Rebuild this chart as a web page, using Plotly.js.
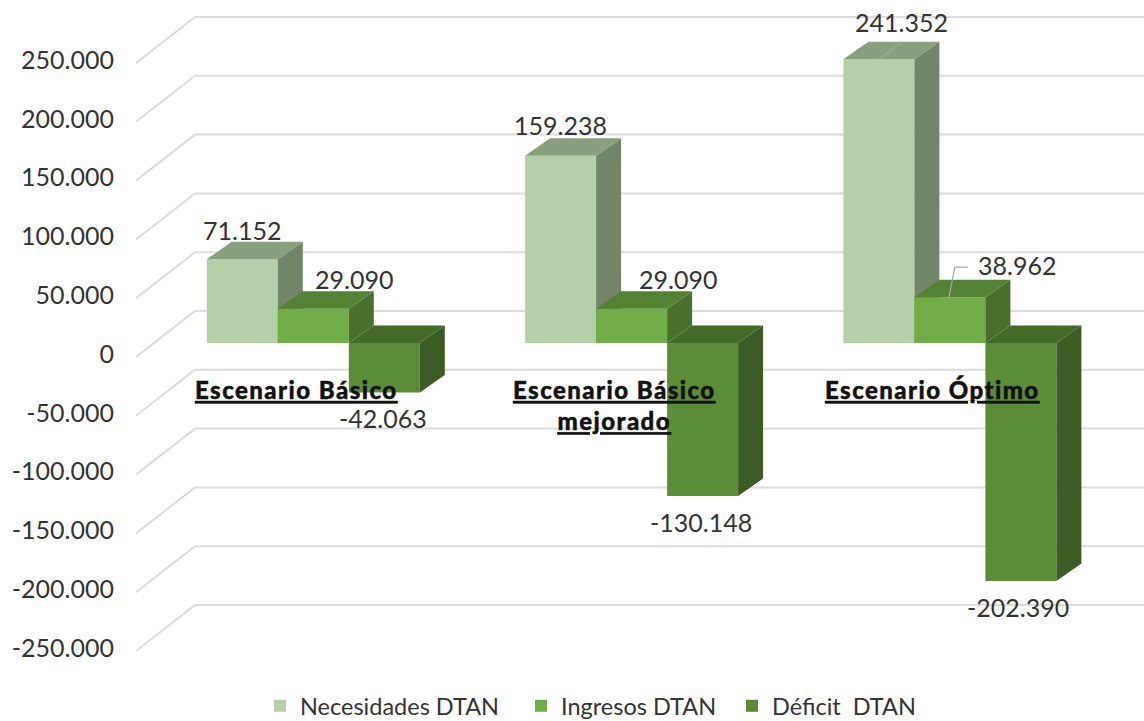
<!DOCTYPE html>
<html>
<head>
<meta charset="utf-8">
<script src="https://cdn.plot.ly/plotly-3.0.1.min.js"></script>
<style>
html,body{margin:0;padding:0;background:#fff;overflow:hidden}
#chart{width:1144px;height:721px}
text[data-unformatted*="Escenario"], text[data-unformatted*="Escenario"] tspan{letter-spacing:1.45px;stroke:#111;stroke-width:.45px}
</style>
</head>
<body>
<div id="chart"></div>
<script>
// ---- data ----
const categories = ['Escenario Básico', 'Escenario Básico<br>mejorado', 'Escenario Óptimo'];
const necesidades = [71152, 159238, 241352];
const ingresos = [29090, 29090, 38962];
const deficit = [-42063, -130148, -202390];
const seriesNames = ['Necesidades DTAN', 'Ingresos DTAN', 'Déficit  DTAN'];
const tickValues = [250000, 200000, 150000, 100000, 50000, 0, -50000, -100000, -150000, -200000, -250000];
const tickLabels = ['250.000', '200.000', '150.000', '100.000', '50.000', '0', '-50.000', '-100.000', '-150.000', '-200.000', '-250.000'];
const valueLabels = [
  ['71.152', '159.238', '241.352'],
  ['29.090', '29.090', '38.962'],
  ['-42.063', '-130.148', '-202.390']
];

// ---- styles and geometry ----
const W = 1144, H = 721, mL = 136, mB = 31;
const plotH = H - mB;
const groupPx = 318.3, group0Px = 313.3;
const pxPerUnit = 58.8 / 50000;
const barPx = 71, depthX = 25, depthY = 17.5;
const xU = px => px / groupPx, yU = px => px / pxPerUnit;
const xRange = [(mL - group0Px) / groupPx, (W - group0Px) / groupPx];
const barZeroPx = 343, labelZeroPx = 354;
const frontColors = ['#b5cfa8', '#70ad47', '#5b8c38'];
const topColors = ['#88a07e', '#548235', '#446a2a'];
const sideColors = ['#728569', '#49702e', '#3b5c24'];
const fontFam = 'Lato, "Noto Sans", sans-serif';
const txt = '#333333';
const seriesValues = [necesidades, ingresos, deficit];
const seriesOffsets = [-1.5, -0.5, 0.5];

const xAxisBase = {visible: false, range: xRange, fixedrange: true};
const traces = [];

// wall and floor gridlines, following the axis ticks
const gx = [], gy = [];
const frontX = xRange[0], backX = (195 - group0Px) / groupPx;
tickValues.forEach(v => {
  gx.push(frontX, backX, xRange[1], null);
  gy.push(v - yU(3), v + yU(43), v + yU(43), null);
});
traces.push({type: 'scatter', mode: 'lines', x: gx, y: gy, xaxis: 'x', yaxis: 'y',
  line: {color: '#dcdcdc', width: 2}, hoverinfo: 'skip', showlegend: false});

// bars with their 3D faces, one overlay subplot per series so they stack in order
seriesValues.forEach((vals, s) => {
  const xa = 'x' + (s + 2);
  const w = xU(barPx);
  traces.push({type: 'bar', name: seriesNames[s], x: [0, 1, 2], y: vals,
    xaxis: xa, yaxis: 'y2', width: w, offset: seriesOffsets[s] * w,
    marker: {color: frontColors[s], line: {width: 0}},
    legend: s === 0 ? 'legend' : 'legend' + (s + 1)});
  const tx = [], ty = [], sx = [], sy = [];
  vals.forEach((v, i) => {
    const xl = i + seriesOffsets[s] * w, xr = xl + w;
    const hi = Math.max(v, 0), lo = Math.min(v, 0);
    const dx = xU(depthX), dy = yU(depthY);
    tx.push(xl, xr, xr + dx, xl + dx, xl, null);
    ty.push(hi, hi, hi + dy, hi + dy, hi, null);
    sx.push(xr, xr + dx, xr + dx, xr, xr, null);
    sy.push(hi, hi + dy, lo + dy, lo, hi, null);
  });
  traces.push({type: 'scatter', mode: 'lines', x: sx, y: sy, xaxis: xa, yaxis: 'y2', fill: 'toself',
    fillcolor: sideColors[s], line: {width: 0}, hoverinfo: 'skip', showlegend: false});
  traces.push({type: 'scatter', mode: 'lines', x: tx, y: ty, xaxis: xa, yaxis: 'y2', fill: 'toself',
    fillcolor: topColors[s], line: {width: 0}, hoverinfo: 'skip', showlegend: false});
});

// leader lines of the two moved labels
const c3 = 2;
const midC = c3 + seriesOffsets[1] * xU(barPx) + xU(barPx) / 2;
const lightC = c3 + seriesOffsets[0] * xU(barPx) + xU(barPx) / 2;
traces.push({type: 'scatter', mode: 'lines', xaxis: 'x4', yaxis: 'y2', hoverinfo: 'skip', showlegend: false,
  x: [lightC, lightC + xU(22), null, midC - xU(1), midC + xU(5), midC + xU(18)],
  y: [necesidades[2], necesidades[2] + yU(16), null, ingresos[2], ingresos[2] + yU(30), ingresos[2] + yU(30)],
  line: {color: '#a6a6a6', width: 1.2}});

// value labels
const labelDx = [[0, 0, 23], [41, 46, 67], [-1, -2, -3]];
const labelDy = [[29, 31, 37], [30, 30, 32], [-26, -26, -26]];
const annotations = [];
seriesValues.forEach((vals, s) => {
  vals.forEach((v, i) => {
    annotations.push({xref: 'x', yref: 'y2', x: i + (seriesOffsets[s] + 0.5) * xU(barPx), y: v,
      xshift: labelDx[s][i], yshift: labelDy[s][i], text: valueLabels[s][i], showarrow: false,
      xanchor: 'center', yanchor: 'middle', font: {family: fontFam, size: 25, color: txt}});
  });
});
// category labels
categories.forEach((c, i) => {
  annotations.push({xref: 'x', yref: 'y2', x: i, y: 0, xshift: -17, yshift: -30, text: c, showarrow: false,
    xanchor: 'center', yanchor: 'top', align: 'center',
    font: {family: fontFam, size: 24, color: '#111111', weight: 900, lineposition: 'under'}});
});

const legendBase = {orientation: 'h', xanchor: 'left', yanchor: 'middle', y: -16 / plotH,
  bgcolor: 'rgba(0,0,0,0)', font: {family: fontFam, size: 23.5, color: txt}};
const legendX = px => (px - mL) / (W - mL);

const layout = {
  width: W, height: H,
  margin: {l: mL, r: 0, t: 0, b: mB, pad: 0, autoexpand: false},
  paper_bgcolor: '#ffffff', plot_bgcolor: 'rgba(0,0,0,0)',
  xaxis: Object.assign({}, xAxisBase),
  xaxis2: Object.assign({overlaying: 'x'}, xAxisBase),
  xaxis3: Object.assign({overlaying: 'x'}, xAxisBase),
  xaxis4: Object.assign({overlaying: 'x'}, xAxisBase),
  yaxis: {range: [(labelZeroPx - plotH) / pxPerUnit, labelZeroPx / pxPerUnit], tickmode: 'array',
    tickvals: tickValues, ticktext: tickLabels, showgrid: false, zeroline: false, showline: false,
    ticks: 'outside', ticklen: 16, tickcolor: 'rgba(0,0,0,0)', fixedrange: true,
    tickfont: {family: fontFam, size: 25, color: txt}},
  yaxis2: {overlaying: 'y', visible: false, fixedrange: true,
    range: [(barZeroPx - plotH) / pxPerUnit, barZeroPx / pxPerUnit]},
  showlegend: true,
  legend: Object.assign({}, legendBase, {x: legendX(260)}),
  legend2: Object.assign({}, legendBase, {x: legendX(521)}),
  legend3: Object.assign({}, legendBase, {x: legendX(732)}),
  annotations: annotations
};

Plotly.newPlot('chart', traces, layout, {displayModeBar: false, responsive: false});
</script>
</body>
</html>
